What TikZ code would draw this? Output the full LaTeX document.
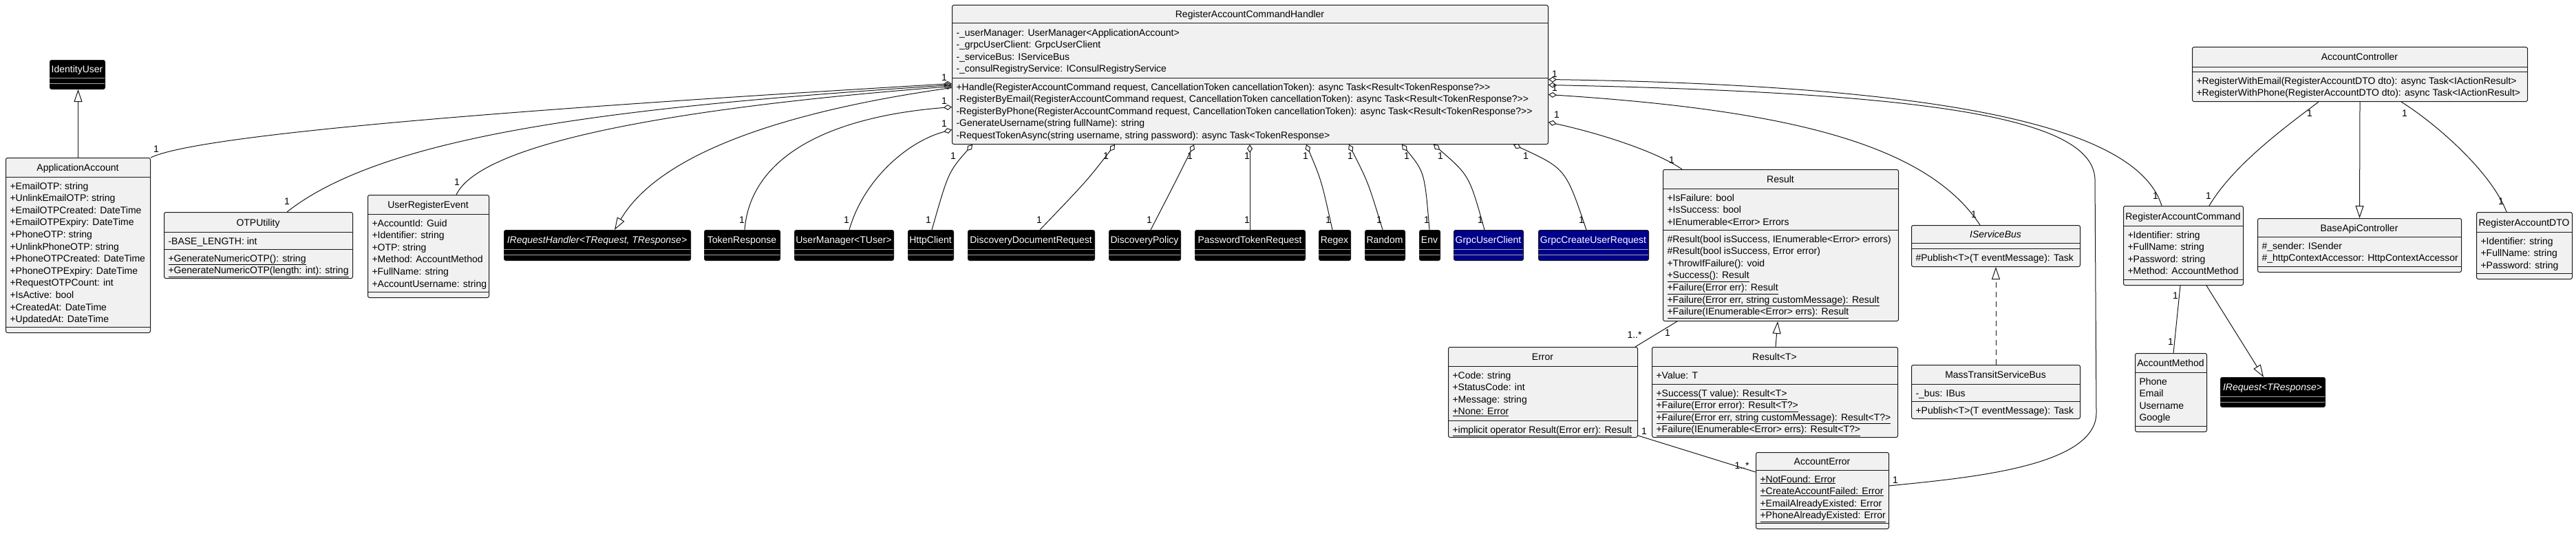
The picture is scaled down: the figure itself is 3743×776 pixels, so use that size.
\documentclass[tikz,border=0pt]{standalone}
\usepackage{fontspec}
\setmainfont{Liberation Sans}
\usepackage{tikz}
\usetikzlibrary{arrows.meta,calc}
\definecolor{umlLine}{HTML}{181818}
\definecolor{umlFill}{HTML}{F1F1F1}
\definecolor{umlNavy}{HTML}{00008B}
\colorlet{fillL}{umlFill}
\colorlet{fillD}{black}
\colorlet{fillN}{umlNavy}
\colorlet{sepL}{umlLine}
\colorlet{sepD}{gray!70}
\colorlet{sepN}{gray!70}
\colorlet{txtL}{black}
\colorlet{txtD}{white}
\colorlet{txtN}{white}
\newcommand{\umlfont}{\fontsize{14}{17.6}\selectfont}

\begin{document}
\begin{tikzpicture}[x=1pt,y=-1pt,line width=1pt,color=umlLine,
  box/.style={rounded corners=2.5pt,draw=umlLine,anchor=north west,inner sep=0pt},
  ttl/.style={anchor=base,inner sep=0pt,font=\umlfont},
  mem/.style={anchor=north west,align=left,inner sep=0pt,font=\umlfont,text=black},
  mult/.style={inner sep=1pt,font=\umlfont,text=black},
  agg/.style={arrows={Diamond[open,length=12pt,width=8pt]-}},
  gen/.style={arrows={-Triangle[open,length=18pt,width=12pt]}},
  rea/.style={gen,dash pattern=on 8pt off 6pt}]
  \useasboundingbox[fill=white] (0,0) rectangle (3743,776);

  % class frames, compartments and titles
  \foreach \id/\xa/\ya/\xb/\yb/\hs/\as/\k/\ttl in {
    idu/72/87/152/129/113/121/D/IdentityUser,
    aa/8/229/218/483/257/475/L/ApplicationAccount,
    otp/238/308/512/404/337/362/L/OTPUtility,
    ure/534/283/710/432/311/424/L/UserRegisterEvent,
    hdl/1383/7/2249/209/34/113/L/RegisterAccountCommandHandler,
    irh/732/334/1003/378/362/370/D/{\itshape IRequestHandler<TRequest, TResponse>},
    tokr/1023/334/1133/378/362/370/D/TokenResponse,
    umgr/1154/334/1298/378/362/370/D/UserManager<TUser>,
    http/1319/334/1385/378/362/370/D/HttpClient,
    ddr/1406/334/1590/378/362/370/D/DiscoveryDocumentRequest,
    dpol/1611/334/1715/378/362/370/D/DiscoveryPolicy,
    ptr/1736/334/1896/378/362/370/D/PasswordTokenRequest,
    rgx/1916/334/1962/378/362/370/D/Regex,
    rnd/1983/334/2041/378/362/370/D/Random,
    env/2062/334/2092/378/362/370/D/Env,
    guc/2112/334/2213/378/362/370/N/GrpcUserClient,
    gcur/2235/334/2395/378/362/370/N/GrpcCreateUserRequest,
    res/2416/246/2758/466/274/334/L/Result,
    err/2104/504/2379/635/532/611/L/Error,
    rest/2400/504/2757/635/532/558/L/Result<T>,
    aerr/2551/657/2744/768/683/760/L/AccountError,
    isb/2777/327/3022/387/353/361/L/{\itshape IServiceBus},
    mtsb/2777/530/3022/608/558/583/L/MassTransitServiceBus,
    actl/3185/68/3672/147/97/104/L/AccountController,
    rac/3085/299/3259/414/328/406/L/RegisterAccountCommand,
    bapi/3280/317/3576/395/344/387/L/BaseApiController,
    rdto/3598/308/3737/405/337/397/L/RegisterAccountDTO,
    amth/3102/513/3206/627/541/619/L/AccountMethod,
    ireq/3226/548/3378/591/576/584/D/{\itshape IRequest<TResponse>}}{
    \node[box,fill=fill\k,minimum width={(\xb-\xa)*1pt},minimum height={(\yb-\ya)*1pt}] (\id) at (\xa,\ya) {};
    \draw[draw=sep\k] (\xa,\hs) -- (\xb,\hs) (\xa,\as) -- (\xb,\as);
    \node[ttl,text=txt\k] (\id-t) at ({(\xa+\xb)/2},{(\ya+\hs)/2+5.5}) {\ttl};
  }

  % members
  \node[mem] (aa-a) at (14,264.5) {+EmailOTP: string\\+UnlinkEmailOTP: string\\+EmailOTPCreated: DateTime\\+EmailOTPExpiry: DateTime\\+PhoneOTP: string\\+UnlinkPhoneOTP: string\\+PhoneOTPCreated: DateTime\\+PhoneOTPExpiry: DateTime\\+RequestOTPCount: int\\+IsActive: bool\\+CreatedAt: DateTime\\+UpdatedAt: DateTime};
  \node[mem] (otp-a) at (244,344.5) {-BASE\_LENGTH: int};
  \node[mem] (otp-m) at (244,369.5) {\underline{+GenerateNumericOTP(): string}\\\underline{+GenerateNumericOTP(length: int): string}};
  \node[mem] (ure-a) at (540,318.5) {+AccountId: Guid\\+Identifier: string\\+OTP: string\\+Method: AccountMethod\\+FullName: string\\+AccountUsername: string};
  \node[mem] (hdl-a) at (1389,41.5) {-\_userManager: UserManager<ApplicationAccount>\\-\_grpcUserClient: GrpcUserClient\\-\_serviceBus: IServiceBus\\-\_consulRegistryService: IConsulRegistryService};
  \node[mem] (hdl-m) at (1389,120.5) {+Handle(RegisterAccountCommand request, CancellationToken cancellationToken): async Task<Result<TokenResponse?>{}>\\-RegisterByEmail(RegisterAccountCommand request, CancellationToken cancellationToken): async Task<Result<TokenResponse?>{}>\\-RegisterByPhone(RegisterAccountCommand request, CancellationToken cancellationToken): async Task<Result<TokenResponse?>{}>\\-GenerateUsername(string fullName): string\\-RequestTokenAsync(string username, string password): async Task<TokenResponse>};
  \node[mem] (res-a) at (2422,281.5) {+IsFailure: bool\\+IsSuccess: bool\\+IEnumerable<Error> Errors};
  \node[mem] (res-m) at (2422,341.5) {\#Result(bool isSuccess, IEnumerable<Error> errors)\\\#Result(bool isSuccess, Error error)\\+ThrowIfFailure(): void\\\underline{+Success(): Result}\\\underline{+Failure(Error err): Result}\\\underline{+Failure(Error err, string customMessage): Result}\\\underline{+Failure(IEnumerable<Error> errs): Result}};
  \node[mem] (err-a) at (2110,539.5) {+Code: string\\+StatusCode: int\\+Message: string\\\underline{+None: Error}};
  \node[mem] (err-m) at (2110,618.5) {\underline{+implicit operator Result(Error err): Result}};
  \node[mem] (rest-a) at (2406,539.5) {+Value: T};
  \node[mem] (rest-m) at (2406,565.5) {\underline{+Success(T value): Result<T>}\\\underline{+Failure(Error error): Result<T?>}\\\underline{+Failure(Error err, string customMessage): Result<T?>}\\\underline{+Failure(IEnumerable<Error> errs): Result<T?>}};
  \node[mem] (aerr-a) at (2557,690.5) {\underline{+NotFound: Error}\\\underline{+CreateAccountFailed: Error}\\\underline{+EmailAlreadyExisted: Error}\\\underline{+PhoneAlreadyExisted: Error}};
  \node[mem] (isb-m) at (2783,368.5) {\#Publish<T>(T eventMessage): Task};
  \node[mem] (mtsb-a) at (2783,565.5) {-\_bus: IBus};
  \node[mem] (mtsb-m) at (2783,590.5) {+Publish<T>(T eventMessage): Task};
  \node[mem] (actl-m) at (3191,111.5) {+RegisterWithEmail(RegisterAccountDTO dto): async Task<IActionResult>\\+RegisterWithPhone(RegisterAccountDTO dto): async Task<IActionResult>};
  \node[mem] (rac-a) at (3091,335.5) {+Identifier: string\\+FullName: string\\+Password: string\\+Method: AccountMethod};
  \node[mem] (bapi-a) at (3286,351.5) {\#\_sender: ISender\\\#\_httpContextAccessor: HttpContextAccessor};
  \node[mem] (rdto-a) at (3604,344.5) {+Identifier: string\\+FullName: string\\+Password: string};
  \node[mem] (amth-a) at (3108,548.5) {Phone\\Email\\Username\\Google};

  % handler, left side
  \draw[agg] ($(hdl.west)+(0,13)$) .. controls (900,150) and (300,190) .. (aa.north east);
  \draw[agg] ($(hdl.west)+(0,15)$) .. controls (900,155) and (560,195) .. ($(otp.north west)+(179,0)$);
  \draw[agg] ($(hdl.west)+(0,17)$) .. controls (1000,155) and (700,205) .. ($(ure.north west)+(129,0)$);
  \draw[gen] ($(hdl.west)+(0,19)$) .. controls (1150,160) and (960,220) .. ($(irh.north west)+(161,0)$);
  \draw[agg] ($(hdl.west)+(0,47)$) .. controls (1200,170) and (1090,230) .. ($(tokr.north west)+(59,0)$);
  \draw[agg] ($(hdl.west)+(0,80)$) .. controls (1320,205) and (1255,260) .. ($(umgr.north west)+(80,0)$);

  % handler, bottom side
  \foreach \dx/\tgt/\tx/\cx/\cy in {30/http/35/1378/250,237/ddr/105/1580/262,352/dpol/61/1705/270,
      433/ptr/80/1816/270,515/rgx/20/1920/262,577/rnd/26/1988/265,654/env/15/2070/250,
      700/guc/45/2135/255,816/gcur/70/2275/245}
    \draw[agg] ($(hdl.south west)+(\dx,0)$) .. controls (\cx,\cy) .. ($(\tgt.north west)+(\tx,0)$);

  % handler, right side
  \draw[agg] ($(hdl.east)+(0,7)$) .. controls (2900,125) and (3110,200) .. ($(rac.north west)+(56,0)$);
  \draw[agg] ($(hdl.east)+(0,15)$) .. controls (2800,135) and (3040,170) .. (3044,260) -- (3046,600)
    .. controls (3046,680) and (2850,695) .. ($(aerr.north east)+(0,49)$);
  \draw[agg] ($(hdl.east)+(0,29)$) .. controls (2600,160) and (2800,210) .. ($(isb.north west)+(100,0)$);
  \draw[agg] ($(hdl.east)+(0,69)$) .. controls (2330,195) and (2410,222) .. ($(res.north west)+(28,0)$);

  % the other relations
  \draw[gen] (aa.north) -- (aa.north |- idu.south);
  \draw ($(res.south west)+(21,0)$) -- ($(err.north east)+(-4,0)$);
  \draw[gen] ($(rest.north west)+(180,0)$) -- ($(res.south west)+(167,0)$);
  \draw ($(err.south east)+(0,-3)$) -- ($(aerr.north west)+(0,29)$);
  \draw[rea] (mtsb.north) -- (isb.south);
  \draw ($(actl.south west)+(184,0)$) .. controls (3320,185) and (3245,240) .. ($(rac.north west)+(125,0)$);
  \draw[gen] (actl.south) -- (bapi.north);
  \draw ($(actl.south west)+(304,0)$) .. controls (3540,180) and (3620,250) .. ($(rdto.north west)+(44,0)$);
  \draw ($(rac.south west)+(83,0)$) -- ($(amth.north west)+(56,0)$);
  \draw[gen] ($(rac.south west)+(121,0)$) -- ($(ireq.north west)+(63,0)$);

  % multiplicities
  \foreach \lx/\ly [count=\i] in {1372/113,1372/147,1372/180,
      1385/227,1607/227,1729/227,1812/227,1897/227,1962/227,2044/227,2093/227,2217/227,
      2259/108,2259/128,2262/167,
      227/217,417/293,664/265,1078/320,1230/320,1349/320,1510/320,1670/320,1812/320,
      1930/320,2004/320,2073/320,2151/320,2298/320,2429/233,2868/312,2754/698,3132/285,
      2423/484,2389/627,3356/165,3494/165,3209/285,3634/293,3161/430,3154/497}
    \node[mult] (m\i) at (\lx,\ly) {1};
  \node[mult] (ms1) at (2375,487) {1..*};
  \node[mult] (ms2) at (2531,677) {1..*};
\end{tikzpicture}
\end{document}
